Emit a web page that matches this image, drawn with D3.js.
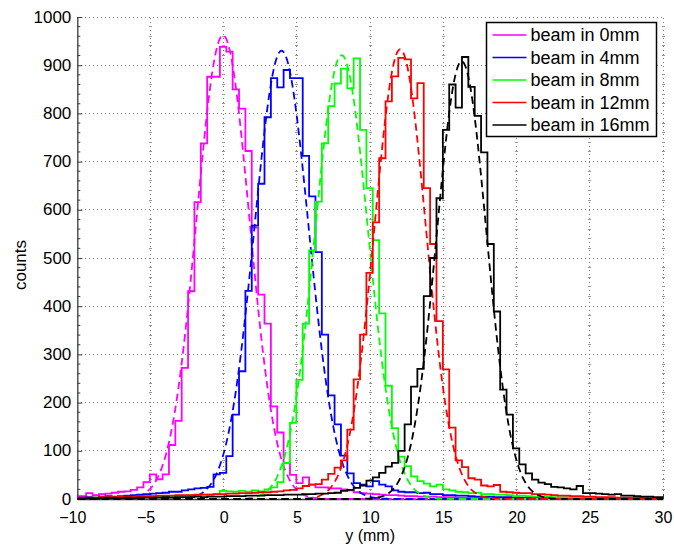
<!DOCTYPE html>
<html>
<head>
<meta charset="utf-8">
<script src="https://cdn.jsdelivr.net/npm/d3@7"></script>
<style>
  html, body { margin: 0; padding: 0; background: #fff; }
  svg { display: block; font-family: "Liberation Sans", Arial, Helvetica, sans-serif; }
</style>
</head>
<body>
<svg id="chart" width="674" height="544"></svg>
<script>
// Histogram binning along y (mm): left edge of the first bin and bin width
const binStart = -10.265;
const binWidth = 0.435;

const seriesNames = ["beam in 0mm", "beam in 4mm", "beam in 8mm", "beam in 12mm", "beam in 16mm"];

// Counts per bin for each beam position
const countsBeam0 = [6,6,12,8,10,11,13,15,16,19,24,35,51,41,51,112,162,272,431,616,738,876,876,938,928,850,810,722,563,424,364,192,138,75,50,33,45,30,24,24,22,22,20,18,14,12,11,10,9,8,8,7,6,6,5,5,5,4,4,4,3,3,3,2,3,2,2,2,2,1,2,1,1,2,1,1,1,1,0,1,1,0,1,1,0,1,1,0,1,0,1,0,0];
const countsBeam4 = [3,3,4,3,5,6,5,6,7,8,9,10,11,12,13,15,15,18,20,22,23,25,51,54,89,175,265,432,567,654,792,873,854,890,873,873,712,628,512,341,215,155,90,53,33,30,26,37,30,26,18,15,14,14,12,13,10,10,8,8,7,7,6,5,5,5,4,4,4,3,3,3,3,2,3,2,2,2,1,2,1,1,1,1,1,0,1,1,0,1,0,1,0];
const countsBeam8 = [2,2,2,3,3,3,3,4,4,4,5,5,5,6,6,6,7,7,8,8,9,9,10,17,16,15,17,15,18,16,20,24,35,75,158,247,364,516,617,738,815,862,893,852,914,766,645,537,385,235,147,88,68,47,37,32,26,30,20,18,15,14,12,13,10,10,9,9,8,6,7,6,5,5,5,4,4,4,3,3,3,3,2,2,2,2,2,1,2,1,1,1,1];
const countsBeam12 = [2,3,3,3,4,4,4,5,5,5,6,6,6,7,7,7,8,8,8,9,9,9,10,10,11,11,12,12,13,14,14,15,16,18,19,22,27,30,31,40,52,65,80,144,248,341,469,574,707,825,877,915,912,831,863,645,529,369,269,148,80,66,43,40,28,26,29,15,14,13,12,12,10,10,9,8,7,7,6,6,5,5,4,4,4,3,3,3,3,2,2,2,2];
const countsBeam16 = [1,1,2,1,2,2,2,2,3,2,3,3,3,3,4,3,4,4,4,5,4,5,5,5,6,6,6,7,7,7,8,8,8,9,9,9,10,10,11,11,12,13,17,19,23,28,38,45,54,67,75,100,155,233,270,421,500,624,766,860,812,917,855,795,719,529,389,227,175,105,72,53,40,34,31,25,24,22,20,27,12,12,11,10,9,10,7,7,6,5,5,4,4];

// Gaussian fit parameters per beam: centre (mm), peak (counts), sigma (mm)
const fitCenter = [-0.05, 3.95, 8.05, 12.05, 16.25];
const fitPeak   = [962, 930, 921, 933, 908];
const fitSigma  = [1.8, 1.85, 1.8, 1.75, 1.7];

const xTicks = [-10, -5, 0, 5, 10, 15, 20, 25, 30];
const yTicks = [0, 100, 200, 300, 400, 500, 600, 700, 800, 900, 1000];

const colors = ["#ff00ff", "#0000ff", "#00ff00", "#ff0000", "#000000"];
const allCounts = [countsBeam0, countsBeam4, countsBeam8, countsBeam12, countsBeam16];

const W = 674, H = 544;
const plot = { left: 77.3, right: 663, top: 17, bottom: 499 };

const x = d3.scaleLinear().domain([xTicks[0], xTicks[xTicks.length - 1]]).range([plot.left, plot.right]);
const y = d3.scaleLinear().domain([yTicks[0], yTicks[yTicks.length - 1]]).range([plot.bottom, plot.top]);

const svg = d3.select("#chart");
svg.append("rect").attr("width", W).attr("height", H).attr("fill", "#fff");

svg.append("clipPath").attr("id", "plotClip").append("rect")
  .attr("x", plot.left).attr("y", plot.top - 2)
  .attr("width", plot.right - plot.left).attr("height", plot.bottom - plot.top + 3);

// Dotted major grid
const grid = svg.append("g").attr("stroke", "#7a7a7a").attr("stroke-width", 1)
  .attr("stroke-dasharray", "1,3").attr("shape-rendering", "crispEdges");
grid.selectAll("line.gv").data(xTicks.slice(1)).join("line").attr("class", "gv")
  .attr("x1", d => x(d)).attr("x2", d => x(d)).attr("y1", y(0)).attr("y2", y(1000));
grid.selectAll("line.gh").data(yTicks.slice(1)).join("line").attr("class", "gh")
  .attr("x1", x(-10)).attr("x2", x(30)).attr("y1", d => y(d)).attr("y2", d => y(d));

// Minor tick marks along the vertical grid lines
const minorY = d3.range(20, 1000, 20).filter(v => v % 100 !== 0);
const minorMarks = svg.append("g").attr("stroke", "#9a9a9a").attr("stroke-width", 1)
  .attr("shape-rendering", "crispEdges");
xTicks.slice(1).forEach(xv => {
  minorMarks.selectAll(null).data(minorY).join("line")
    .attr("x1", x(xv) - 1.5).attr("x2", x(xv) + 1.5)
    .attr("y1", d => y(d)).attr("y2", d => y(d));
});

// Axes (ticks pointing inward)
const fmt = d3.format("d");
const yAxis = d3.axisLeft(y).tickValues(yTicks).tickSize(-5).tickSizeOuter(0).tickPadding(6).tickFormat(fmt);
const gy = svg.append("g").attr("transform", `translate(${plot.left},0)`).call(yAxis);
const xAxis = d3.axisBottom(x).tickValues(xTicks).tickSize(-5).tickSizeOuter(0).tickPadding(12.6).tickFormat(fmt);
const gx = svg.append("g").attr("transform", `translate(0,${plot.bottom})`).call(xAxis);

[gx, gy].forEach(g => {
  g.select(".domain").attr("stroke", "#3a3a3a").attr("stroke-width", 1.3);
  g.selectAll(".tick line").attr("stroke", "#3a3a3a").attr("stroke-width", 1);
  g.selectAll(".tick text").attr("fill", "#000").attr("font-size", 17)
    .attr("font-family", "'Liberation Sans', Arial, Helvetica, sans-serif");
});
gy.selectAll(".tick text").attr("dy", "0.3em");
gx.selectAll(".tick text").attr("font-size", 16).attr("dx", d => d < 0 ? -5 : 0);

// Minor ticks on the y axis
gy.selectAll("line.minor").data(minorY).join("line").attr("class", "minor")
  .attr("x1", 0).attr("x2", 3).attr("y1", d => y(d)).attr("y2", d => y(d))
  .attr("stroke", "#3a3a3a").attr("stroke-width", 1);

// Axis titles
svg.append("text").attr("x", (plot.left + plot.right) / 2).attr("y", 541)
  .attr("text-anchor", "middle").attr("font-size", 16).text("y (mm)");
svg.append("text").attr("transform", `translate(26,${(plot.top + plot.bottom) / 2 + 7}) rotate(-90)`)
  .attr("text-anchor", "middle").attr("font-size", 17).text("counts");

// Histograms and Gaussian fits
const dataLayer = svg.append("g").attr("clip-path", "url(#plotClip)");
const lineGen = d3.line().x(d => x(d[0])).y(d => y(d[1]));
const stepGen = d3.line().x(d => x(d[0])).y(d => y(d[1])).curve(d3.curveStepAfter);
const fitXs = d3.range(-10, 30.0001, 0.05);

allCounts.forEach((counts, i) => {
  const n = counts.length;
  const pts = counts.map((c, k) => [binStart + k * binWidth, c]);
  pts.push([binStart + n * binWidth, counts[n - 1]]);
  dataLayer.append("path").datum(pts)
    .attr("d", stepGen).attr("fill", "none")
    .attr("stroke", colors[i]).attr("stroke-width", 1.8).attr("stroke-linejoin", "miter");

  const fit = fitXs.map(v => [v, fitPeak[i] * Math.exp(-((v - fitCenter[i]) ** 2) / (2 * fitSigma[i] ** 2))]);
  dataLayer.append("path").datum(fit)
    .attr("d", lineGen).attr("fill", "none")
    .attr("stroke", colors[i]).attr("stroke-width", 1.8).attr("stroke-dasharray", "7.5,4.5");
});

// Legend
const legend = svg.append("g");
const lg = { x: 486.5, y: 22.5, w: 170, h: 114, row: 22.5 };
legend.append("rect").attr("x", lg.x).attr("y", lg.y).attr("width", lg.w).attr("height", lg.h)
  .attr("fill", "#fff").attr("stroke", "#000").attr("stroke-width", 1.5);
seriesNames.forEach((name, i) => {
  const cy = lg.y + 12.5 + i * lg.row;
  legend.append("line").attr("x1", lg.x + 6).attr("x2", lg.x + 40).attr("y1", cy).attr("y2", cy)
    .attr("stroke", colors[i]).attr("stroke-width", 1.6);
  legend.append("text").attr("x", lg.x + 44).attr("y", cy).attr("dy", "0.36em")
    .attr("font-size", 18).text(name);
});
</script>
</body>
</html>
